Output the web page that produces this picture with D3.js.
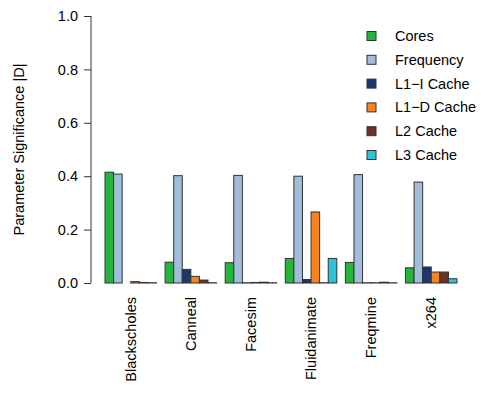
<!DOCTYPE html>
<html>
<head>
<meta charset="utf-8">
<script src="https://cdn.jsdelivr.net/npm/d3@7"></script>
<style>
  body { margin: 0; background: #fff; }
  svg text { font-family: "Liberation Sans", Arial, sans-serif; fill: #000; }
</style>
</head>
<body>
<svg id="chart" width="485" height="393"></svg>
<script>
// benchmarks and parameters
var benchmarks = ["Blackscholes", "Canneal", "Facesim", "Fluidanimate", "Freqmine", "x264"];
var params = ["Cores", "Frequency", "L1\u2212I Cache", "L1\u2212D Cache", "L2 Cache", "L3 Cache"];
var colors = ["#25b53a", "#a2bcdb", "#1b3670", "#f8821f", "#6a3325", "#2cc4dc"];

// |D| per benchmark, one array per parameter
var cores     = [0.415, 0.078, 0.076, 0.092, 0.077, 0.057];
var frequency = [0.408, 0.402, 0.403, 0.400, 0.406, 0.378];
var l1i       = [0.000, 0.051, 0.001, 0.013, 0.001, 0.060];
var l1d       = [0.005, 0.025, 0.002, 0.266, 0.001, 0.041];
var l2        = [0.002, 0.011, 0.003, 0.001, 0.003, 0.041];
var l3        = [0.001, 0.001, 0.001, 0.092, 0.001, 0.016];
var yTicks = [0, 0.2, 0.4, 0.6, 0.8, 1.0];

var series = [cores, frequency, l1i, l1d, l2, l3];
var fs = "14.5px";

var svg = d3.select("#chart");

var x = d3.scaleLinear().domain([1, 42]).range([105, 457]);
var y = d3.scaleLinear().domain([0, 1]).range([283, 16]);

// R barplot style: each group = 1 unit gap + 6 bars
var bars = [];
benchmarks.forEach(function(b, gi){
	series.forEach(function(s, si){
		bars.push({g: gi, s: si, v: s[gi], left: gi*7 + 1 + si});
	});
});

svg.append("g").selectAll("rect")
	.data(bars)
	.enter().append("rect")
	.attr("x", function(d){ return x(d.left); })
	.attr("y", function(d){ return y(d.v); })
	.attr("width", function(d){ return x(d.left+1) - x(d.left); })
	.attr("height", function(d){ return y(0) - y(d.v); })
	.style("fill", function(d){ return colors[d.s]; })
	.style("stroke", "#333")
	.style("stroke-width", 1);

// y axis
var yaxis = svg.append("g")
	.attr("transform", "translate(91,0)")
	.call(d3.axisLeft(y).tickValues(yTicks).tickSize(7).tickPadding(6).tickFormat(d3.format(".1f")));
yaxis.select(".domain").attr("d", "M0," + y(1) + "V" + y(0)).attr("stroke", "#333");
yaxis.selectAll(".tick line").attr("stroke", "#333");
yaxis.selectAll("text").style("font-size", fs).attr("fill", "#000");

svg.append("text")
	.attr("transform", "translate(24," + y(0.5) + ") rotate(-90)")
	.attr("text-anchor", "middle")
	.style("font-size", fs)
	.text("Parameter Significance |D|");

// category labels, rotated
svg.selectAll(".catlabel")
	.data(benchmarks)
	.enter().append("text")
	.attr("class", "catlabel")
	.attr("transform", function(d, i){
		var cx = x(i*7 + 4);
		return "translate(" + (cx + 5) + ",297) rotate(-90)";
	})
	.attr("text-anchor", "end")
	.style("font-size", fs)
	.text(function(d){ return d; });

// legend
var legend = svg.append("g").selectAll("g")
	.data(params)
	.enter().append("g")
	.attr("transform", function(d, i){ return "translate(367," + (36 + i*23.8) + ")"; });

legend.append("rect")
	.attr("x", 0).attr("y", -4.5)
	.attr("width", 9).attr("height", 9)
	.style("fill", function(d, i){ return colors[i]; })
	.style("stroke", "#333")
	.style("stroke-width", 1);

legend.append("text")
	.attr("x", 28)
	.attr("y", 5)
	.style("font-size", fs)
	.text(function(d){ return d; });
</script>
</body>
</html>
